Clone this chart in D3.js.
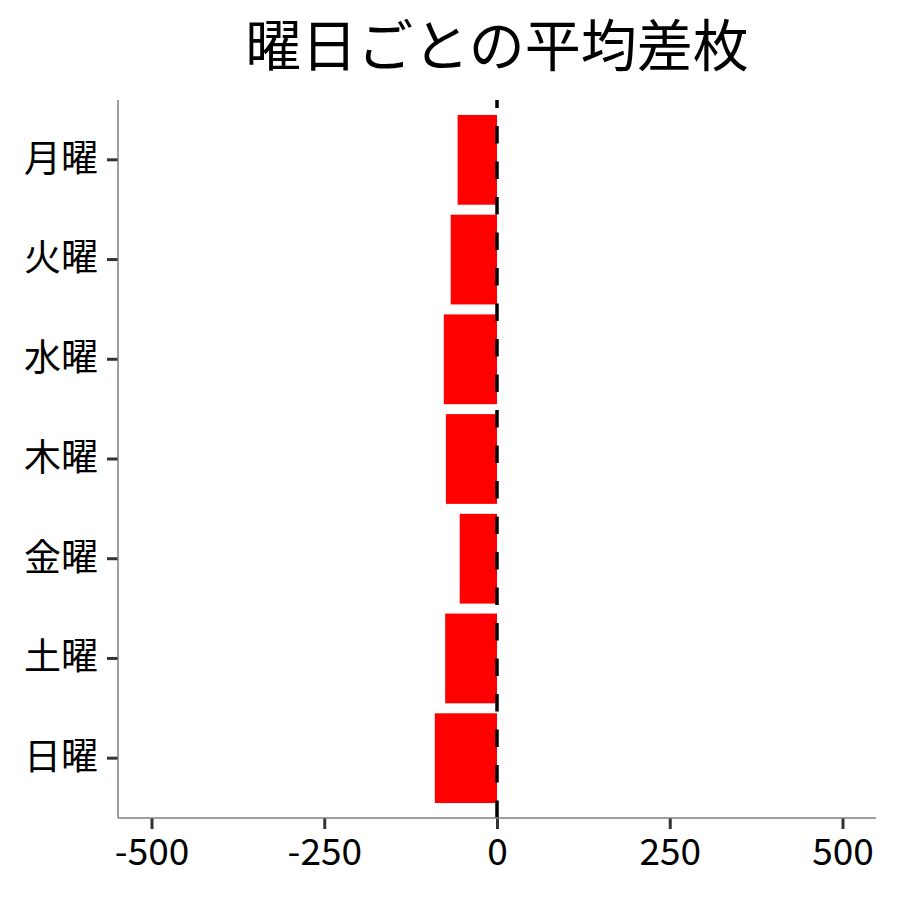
<!DOCTYPE html>
<html>
<head>
<meta charset="utf-8">
<script src="https://cdn.jsdelivr.net/npm/d3@7"></script>
<style>
  body { margin: 0; background: #fff; }
  text { font-family: "Noto Sans CJK JP", "Noto Sans", sans-serif; fill: #000; }
</style>
</head>
<body>
<div class="chart"></div>
<script>
// average difference per weekday
const days = ["月曜", "火曜", "水曜", "木曜", "金曜", "土曜", "日曜"]
const avgDiff = [-57, -67, -77, -74, -54, -75, -90]
const xTicks = [-500, -250, 0, 250, 500]
const title = "曜日ごとの平均差枚"

const margin = {top: 100, right: 24, bottom: 82, left: 118}
const width = 900 - margin.left - margin.right
const height = 900 - margin.top - margin.bottom

const rows = days.map(function(d, i) { return {day: d, value: avgDiff[i]} })

const x = d3.scaleLinear().domain([-548.5, 548.5]).range([0, width])
const y = d3.scaleBand().domain(days).range([0, height])
    .paddingInner(0.1).paddingOuter(0.15)

const svg = d3.select(".chart").append("svg")
    .attr("width", 900)
    .attr("height", 900)

const g = svg.append("g")
    .attr("transform", "translate(" + margin.left + "," + margin.top + ")")

// bars
g.selectAll(".bar")
    .data(rows)
  .enter().append("rect")
    .attr("class", "bar")
    .attr("x", function(d) { return x(Math.min(0, d.value)) })
    .attr("y", function(d) { return y(d.day) })
    .attr("width", function(d) { return Math.abs(x(d.value) - x(0)) })
    .attr("height", y.bandwidth())
    .attr("fill", "#ff0000")

// dashed zero line, drawn from bottom up like ggplot does
g.append("path")
    .attr("d", "M" + x(0) + "," + height + "V0")
    .attr("stroke", "#000")
    .attr("stroke-width", 3.5)
    .attr("stroke-dasharray", "17.5,18")
    .attr("fill", "none")

// axes (plain hyphen for negatives, not the unicode minus)
const xAxis = d3.axisBottom(x).tickValues(xTicks).tickSize(11).tickPadding(10)
    .tickFormat(function(d) { return String(d) })
const yAxis = d3.axisLeft(y).tickSize(11).tickPadding(9)

const gx = g.append("g")
    .attr("transform", "translate(0," + height + ")")
    .call(xAxis)
const gy = g.append("g").call(yAxis)

;[gx, gy].forEach(function(a) {
  a.select(".domain").remove()
  a.selectAll(".tick line").attr("stroke", "#333").attr("stroke-width", 3)
  a.selectAll(".tick text").attr("font-size", 37).attr("fill", "#000")
})

g.append("line")
    .attr("x1", 0).attr("x2", width)
    .attr("y1", height).attr("y2", height)
    .attr("stroke", "#7f7f7f").attr("stroke-width", 1.5)
g.append("line")
    .attr("x1", 0).attr("x2", 0)
    .attr("y1", 0).attr("y2", height)
    .attr("stroke", "#7f7f7f").attr("stroke-width", 1.5)

// title
svg.append("text")
    .attr("x", margin.left + width / 2)
    .attr("y", 66)
    .attr("text-anchor", "middle")
    .attr("font-size", 56)
    .text(title)
</script>
</body>
</html>
